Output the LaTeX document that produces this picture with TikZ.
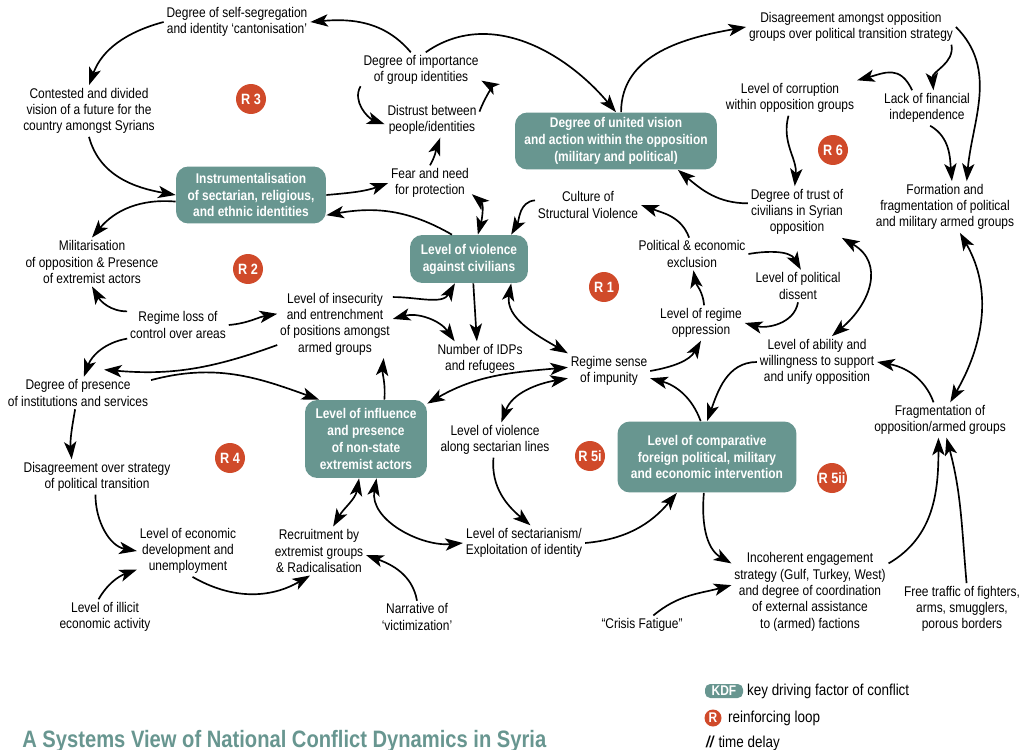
\documentclass[tikz,border=0pt]{standalone}
\usepackage{fontspec}
\setmainfont{Liberation Sans}[FakeStretch=0.85]
\usetikzlibrary{arrows.meta}

\definecolor{kdfteal}{RGB}{104,150,144}
\definecolor{loopred}{RGB}{208,74,42}

\begin{document}
\begin{tikzpicture}[
		x=0.02cm, y=0.02cm,
		% Styles
		factor/.style={align=center, inner sep=1.5pt, font=\fontsize{8}{9.3}\selectfont},
		kdf/.style={align=center, fill=kdfteal, text=white, rounded corners=7pt, inner sep=2pt, font=\bfseries\fontsize{8}{9.6}\selectfont},
		rloop/.style={circle, fill=loopred, text=white, minimum size=0.6cm, inner sep=0pt, font=\bfseries\fontsize{8.5}{10}\selectfont},
		keytext/.style={anchor=west, inner sep=1pt, font=\fontsize{9}{11}\selectfont},
		% Arrows
		arr/.style={-{Stealth[length=10pt,width=7pt,inset=2.5pt]}, line width=0.95pt},
		arrboth/.style={{Stealth[length=10pt,width=7pt,inset=2.5pt]}-{Stealth[length=10pt,width=7pt,inset=2.5pt]}, line width=0.95pt},
		]

		% Canvas
		\fill[white] (0,0) rectangle (1031,-750);
		\useasboundingbox (0,0) rectangle (1031,-750);

		% Loop R3 (identities)
		\node[factor] (self_seg) at (237,-22) {Degree of self-segregation\\and identity `cantonisation'};
		\node[factor] (contested) at (89,-111) {Contested and divided\\vision of a future for the\\country amongst Syrians};
		\node[factor] (group_imp) at (421,-70) {Degree of importance\\of group identities};
		\node[factor] (distrust) at (432,-120) {Distrust between\\people/identities};
		\node[factor] (fear) at (430,-183) {Fear and need\\for protection};
		\node[kdf, minimum width=3cm, minimum height=1.14cm] (instrum) at (251,-195) {Instrumentalisation\\of sectarian, religious,\\and ethnic identities};

		% Loop R6 (opposition)
		\node[kdf, minimum width=4.04cm, minimum height=1.14cm] (united) at (616,-141) {Degree of united vision\\and action within the opposition\\(military and political)};
		\node[factor] (opp_disagree) at (851,-27) {Disagreement amongst opposition\\groups over political transition strategy};
		\node[factor] (corruption) at (790,-98) {Level of corruption\\within opposition groups};
		\node[factor] (fin_indep) at (927,-108) {Lack of financial\\independence};
		\node[factor] (trust) at (797,-212) {Degree of trust of\\civilians in Syrian\\opposition};
		\node[factor] (formation) at (945,-207) {Formation and\\fragmentation of political\\and military armed groups};

		% Loop R1 (violence and oppression)
		\node[factor] (culture) at (588,-205) {Culture of\\Structural Violence};
		\node[kdf, minimum width=2.36cm, minimum height=0.96cm] (violence) at (469,-259) {Level of violence\\against civilians};
		\node[factor] (pol_excl) at (692,-254) {Political \& economic\\exclusion};
		\node[factor] (dissent) at (798,-286) {Level of political\\dissent};
		\node[factor] (oppression) at (701,-323) {Level of regime\\oppression};
		\node[factor] (idps) at (480,-359) {Number of IDPs\\and refugees};
		\node[factor] (impunity) at (609,-371) {Regime sense\\of impunity};
		\node[factor] (ability) at (817,-362) {Level of ability and\\willingness to support\\and unify opposition};

		% Loop R2 (armed groups)
		\node[factor] (militar) at (92,-262) {Militarisation\\of opposition \& Presence\\of extremist actors};
		\node[factor] (loss_ctrl) at (178,-325) {Regime loss of\\control over areas};
		\node[factor] (insecurity) at (335,-324) {Level of insecurity\\and entrenchment\\of positions amongst\\armed groups};
		\node[factor] (institutions) at (78,-393) {Degree of presence\\of institutions and services};
		\node[kdf, minimum width=2.44cm, minimum height=1.56cm] (influence) at (366,-439) {Level of influence\\and presence\\of non-state\\extremist actors};

		% Loops R4 and R5
		\node[factor] (viol_sect) at (495,-440) {Level of violence\\along sectarian lines};
		\node[kdf, minimum width=3.58cm, minimum height=1.42cm] (intervention) at (707,-457) {Level of comparative\\foreign political, military\\and economic intervention};
		\node[factor] (fragment) at (940,-420) {Fragmentation of\\opposition/armed groups};
		\node[factor] (strat_disagree) at (97,-477) {Disagreement over strategy\\of political transition};
		\node[factor] (econ_dev) at (188,-551) {Level of economic\\development and\\unemployment};
		\node[factor] (recruit) at (319,-551) {Recruitment by\\extremist groups\\\& Radicalisation};
		\node[factor] (sectarian) at (524,-543) {Level of sectarianism/\\Exploitation of identity};
		\node[factor] (illicit) at (105,-617) {Level of illicit\\economic activity};
		\node[factor] (narrative) at (417,-617) {Narrative of\\`victimization'};
		\node[factor] (incoherent) at (810,-592) {Incoherent engagement\\strategy (Gulf, Turkey, West)\\and degree of coordination\\of external assistance\\to (armed) factions};
		\node[factor] (fatigue) at (642,-625) {``Crisis Fatigue''};
		\node[factor] (traffic) at (962,-609) {Free traffic of fighters,\\arms, smugglers,\\porous borders};

		% Reinforcing loop markers
		\node[rloop] (r3) at (251,-99) {R 3};
		\node[rloop] (r2) at (248,-269) {R 2};
		\node[rloop] (r1) at (604,-287) {R 1};
		\node[rloop] (r6) at (833,-150) {R 6};
		\node[rloop] (r4) at (230,-458) {R 4};
		\node[rloop] (r5i) at (590,-456) {R 5i};
		\node[rloop] (r5ii) at (832,-478) {R 5ii};

		% Connections
		% R3
		\draw[arr] (group_imp.120) to[out=130,in=5] (self_seg.east);
		\draw[arr] (self_seg.west) to[out=195,in=70] (contested.north);
		\draw[arr] (contested.south) to[out=-75,in=170] (instrum.west);
		\draw[arr] (instrum.185) to[out=175,in=50] (militar.north);
		\draw[arr] (instrum.east) to[out=5,in=200] (fear.west);
		\draw[arr] (fear.north) to[out=60,in=-110] (distrust.-65);
		\draw[arr] (distrust.10) to[out=70,in=-30] (group_imp.-10);
		\draw[arr] (group_imp.195) to[out=240,in=160] (distrust.185);
		\draw[arr] (violence.125) to[out=150,in=10] (instrum.-15);
		\draw[arrboth] (fear.-15) to[out=-40,in=75] (violence.70);
		\draw[arr] (culture.175) to[out=185,in=60] (violence.30);
		\draw[arr] (group_imp.75) to[out=35,in=130] (united.north);

		% R6
		\draw[arr] (united.80) to[out=90,in=190] (opp_disagree.west);
		\draw[arr] (opp_disagree.-10) to[out=-80,in=95] (fin_indep.70);
		\draw[arr] (opp_disagree.east) to[out=-45,in=85] (formation.50);
		\draw[arr] (fin_indep.130) to[out=115,in=15,looseness=1.3] (corruption.north east);
		\draw[arr] (fin_indep.-80) to[out=-30,in=95] (formation.75);
		\draw[arr] (corruption.-95) to[out=-105,in=85] (trust.95);
		\draw[arr] (trust.170) to[out=180,in=-40] (united.-25);

		% R1
		\draw[arr] (pol_excl.100) to[out=110,in=-20] (culture.east);
		\draw[arr] (pol_excl.east) to[out=10,in=120] (dissent.80);
		\draw[arr] (dissent.-90) to[out=-100,in=-15] (oppression.east);
		\draw[arr] (oppression.80) to[out=95,in=-80] (pol_excl.-85);
		\draw[arr] (impunity.east) to[out=10,in=-120] (oppression.south);
		\draw[arrboth] (trust.-30) to[out=-30,in=40,looseness=1.3] (ability.60);
		\draw[arrboth] (formation.-60) to[out=-60,in=60] (fragment.60);
		\draw[arr] (fragment.110) to[out=110,in=-10] (ability.east);
		\draw[arr] (ability.west) to[out=180,in=70] (intervention.north);
		\draw[arr] (intervention.100) to[out=110,in=-15] (impunity.-10);
		\draw[arr] (violence.-80) -- (idps.100);
		\draw[arrboth] (violence.-30) to[out=-100,in=150] (impunity.north west);

		% R5
		\draw[arr] (incoherent.20) to[out=30,in=-90] (fragment.-95);
		\draw[arr] (traffic.80) to[out=95,in=-75] (fragment.-70);
		\draw[arr] (intervention.-95) to[out=-95,in=150] (incoherent.160);
		\draw[arr] (fatigue.40) to[out=40,in=195] (incoherent.175);
		\draw[arr] (sectarian.east) to[out=5,in=-130] (intervention.-130);
		\draw[arr] (viol_sect.-95) to[out=-95,in=140] (sectarian.70);
		\draw[arrboth] (viol_sect.70) to[out=70,in=190] (impunity.190);
		\draw[arrboth] (influence.30) to[out=30,in=185] (impunity.175);

		% R2
		\draw[arr] (insecurity.25) to[out=0,in=-120] (violence.-120);
		\draw[arrboth] (insecurity.5) to[out=15,in=125] (idps.145);
		\draw[arr] (loss_ctrl.165) to[out=180,in=-60] (militar.south);
		\draw[arr] (loss_ctrl.east) to[out=5,in=190] (insecurity.170);
		\draw[arr] (loss_ctrl.195) to[out=190,in=70] (institutions.70);
		\draw[arr] (insecurity.200) to[out=200,in=-5] ([yshift=4pt]institutions.32);
		\draw[arr] (institutions.10) to[out=15,in=160] (influence.140);
		\draw[arr] (influence.65) to[out=85,in=-95] (insecurity.-35);

		% R4
		\draw[arr] (institutions.-100) to[out=-100,in=95] (strat_disagree.145);
		\draw[arr] (strat_disagree.-95) to[out=-90,in=170] (econ_dev.west);
		\draw[arr] (illicit.110) to[out=60,in=200] (econ_dev.200);
		\draw[arr] (econ_dev.-80) to[out=-30,in=-150] (recruit.-110);
		\draw[arr] (narrative.north) to[out=100,in=-20] (recruit.-5);
		\draw[arrboth] (recruit.60) to[out=60,in=-100] (influence.-100);
		\draw[arrboth] (influence.-75) to[out=-100,in=185] (sectarian.west);

		% Legend
		\node[fill=kdfteal, text=white, rounded corners=3pt, minimum width=0.76cm, minimum height=0.28cm, inner sep=0pt, font=\bfseries\fontsize{8}{9}\selectfont] (key_kdf) at (724,-691) {KDF};
		\node[keytext] (key_kdf_txt) at (745,-691) {key driving factor of conflict};
		\node[rloop, minimum size=0.34cm, font=\bfseries\fontsize{8}{9}\selectfont] (key_r) at (713,-718) {R};
		\node[keytext] (key_r_txt) at (726,-718) {reinforcing loop};
		\node[keytext] (key_delay) at (704,-743) {\textbf{\textit{//}} time delay};

		% Title
		\node[anchor=base west, inner sep=0pt, text=kdfteal, font=\bfseries\fontsize{13.5}{16}\selectfont] (title) at (22,-747) {A Systems View of National Conflict Dynamics in Syria};

	\end{tikzpicture}
\end{document}
